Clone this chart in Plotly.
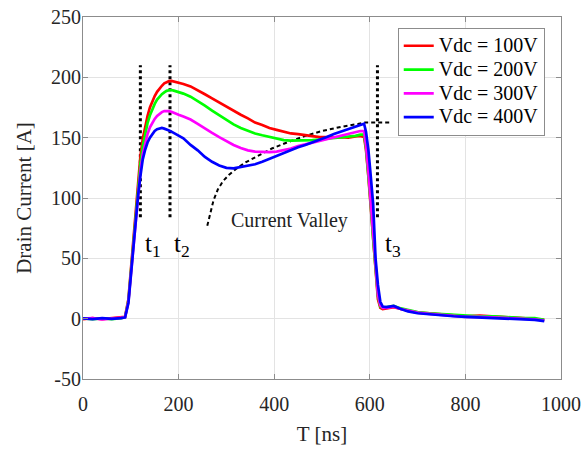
import plotly.graph_objects as go

# Sample times [ns] shared by all four drain-current waveforms
t_ns = [0, 20, 40, 60, 80, 88, 95, 100, 105, 110, 115, 120, 125, 130, 135, 140,
        145, 150, 155, 160, 165, 170, 175, 180, 185, 190, 200, 210, 225, 240, 255,
        270, 285, 300, 315, 330, 345, 360, 375, 390, 405, 420, 435, 450, 465, 480,
        495, 510, 525, 540, 555, 570, 580, 588, 592, 597, 602, 607, 612, 617, 622,
        627, 635, 650, 665, 680, 700, 725, 750, 775, 800, 830, 860, 890, 920, 945, 965]

# Drain current [A] for each DC-link voltage
i_100v = [-0.5, 0.4, -0.3, 0.5, 0.8, 1.5, 16, 39, 62, 87, 112, 134, 149, 160, 168, 175,
          180, 184.5, 188, 191, 193, 195, 196, 196.8, 197, 196.6, 195.5, 194.5, 192.5, 189.5, 186,
          182.5, 179, 175.5, 172, 169, 166, 162.5, 160.5, 158, 156.5, 155, 153.5, 153, 152, 151,
          150.5, 150.5, 150, 150.5, 150, 151, 151.5, 150.5, 140, 118, 92, 62, 35, 16, 9,
          8, 8.5, 9.5, 8, 6.5, 5, 4.5, 3.5, 3, 2, 2.5, 1.5, 1, 0.5, 0, -1]
i_200v = [0.3, -0.4, 0.2, -0.3, 0.5, 1.2, 15, 37, 61, 85, 108, 128, 143, 154, 162, 168.5,
          174, 178, 181.5, 184, 186, 187.5, 188.8, 189.3, 189.5, 189, 188, 186.5, 184, 180.5, 176.5,
          172.5, 168.5, 164.5, 161, 158, 155.5, 153.5, 152, 150.5, 149, 148, 147.5, 147.5, 147.5, 148,
          148.5, 149, 149.5, 150, 151, 151.5, 152.5, 152.5, 142, 120, 95, 66, 39, 19, 10,
          9, 9.5, 10.5, 8.5, 7, 5.5, 4.5, 4, 3, 2.5, 2, 2, 1, 0.5, 0.5, -1]
i_300v = [0, 0.5, -0.5, 0.3, 0.6, 1.2, 14, 36, 60, 83, 104, 122, 136, 146, 153, 158.5,
          162.5, 165.5, 168, 170, 171.2, 172, 172.3, 172, 171.5, 170.5, 169, 167.5, 165, 161.5, 157.5,
          154, 150.5, 147, 144, 141.5, 139.5, 138.5, 138, 138, 138.5, 139.5, 141, 143, 144.5, 146,
          147.5, 149, 150.5, 152, 153, 154.5, 155.5, 155.5, 144, 122, 97, 68, 40, 20, 11,
          9, 9, 10, 8, 6.5, 5, 4, 3, 2.5, 1.5, 1.5, 1, 0.5, 0, -0.5, -1.5]
i_400v = [0.2, -0.3, 0.5, -0.2, 0.4, 1, 13, 35, 58, 81, 101, 118, 132, 140, 146, 150,
          153, 155.5, 157, 157.5, 158, 157.5, 157, 156, 155, 154, 152, 149.5, 144, 139.5, 134,
          130, 127, 125, 124.5, 125.5, 126.5, 128, 130, 132.5, 135, 137.5, 139.5, 142, 144, 146,
          148, 150.5, 153, 155, 157, 159, 160.5, 161.5, 155, 140, 118, 95, 50, 28, 14,
          10, 9.5, 10.5, 8, 6, 4.5, 3.5, 3, 2, 1.5, 1, 0.5, 0, -0.5, -1, -2]

series_names = ["Vdc = 100V", "Vdc = 200V", "Vdc = 300V", "Vdc = 400V"]
series_values = [i_100v, i_200v, i_300v, i_400v]
series_colors = ["#ff0000", "#00ff00", "#ff00ff", "#0000ff"]

# Axis ticks
x_ticks = [0, 200, 400, 600, 800, 1000]
y_ticks = [-50, 0, 50, 100, 150, 200, 250]
y_tick_text = ["-50", "0", "50", "100", "150", "200", "250"]

# Switching instants t1, t2, t3 [ns] and extent of their marker lines [A]
marker_times = [120, 182, 616]
marker_span = [84, 210]
marker_labels = ["t<sub>1</sub>", "t<sub>2</sub>", "t<sub>3</sub>"]
marker_label_x = [125, 186, 627]
marker_label_y = 61

# Envelope of the current valley
valley_t = [260, 266, 273, 282, 293, 305, 320, 340, 365, 395, 430, 465, 500, 540, 575, 590, 645]
valley_i = [77, 88, 98, 107, 114, 119, 124, 129.5, 135, 141, 146.5, 151.5, 155.5, 159, 161.3, 162.5, 162.5]

font_family = "Liberation Serif"
text_color = "#262626"

fig = go.Figure()

for tx in marker_times:
    fig.add_trace(go.Scatter(x=[tx, tx], y=marker_span, mode="lines",
                             line=dict(color="black", width=3, dash="dot"),
                             showlegend=False, hoverinfo="skip"))

fig.add_trace(go.Scatter(x=valley_t, y=valley_i, mode="lines",
                         line=dict(color="black", width=2, dash="4px,3px"),
                         showlegend=False, hoverinfo="skip"))

for name, vals, col in zip(series_names, series_values, series_colors):
    fig.add_trace(go.Scatter(x=t_ns, y=vals, mode="lines",
                             name='<span style="font-size:20px">' + name + "</span>",
                             line=dict(color=col, width=2.7)))

for lx, lab in zip(marker_label_x, marker_labels):
    fig.add_annotation(x=lx, y=marker_label_y, text=lab, showarrow=False,
                       xanchor="left", yanchor="middle",
                       font=dict(family=font_family, size=25, color="black"))

fig.add_annotation(x=433, y=81, text="Current Valley", showarrow=False,
                   xanchor="center", yanchor="middle",
                   font=dict(family=font_family, size=20, color="#222222"))

axis_common = dict(showgrid=True, gridcolor="#e3e3e3", gridwidth=1,
                   showline=True, linecolor="#8c8c8c", linewidth=1, mirror="ticks",
                   ticks="inside", ticklen=5, tickcolor="#8c8c8c", zeroline=False,
                   automargin=False,
                   tickfont=dict(family=font_family, size=20, color=text_color))

fig.update_xaxes(range=[0, 1000], tickvals=x_ticks, ticklabelstandoff=7, **axis_common,
                 title=dict(text="T [ns]", standoff=12,
                            font=dict(family=font_family, size=21, color=text_color)))
fig.update_yaxes(range=[-50, 250], tickvals=y_ticks, ticktext=y_tick_text,
                 ticklabelstandoff=-3, **axis_common,
                 title=dict(text="Drain Current [A]", standoff=13,
                            font=dict(family=font_family, size=21, color=text_color)))

fig.update_layout(
    width=587, height=449,
    margin=dict(l=83, r=26, t=17, b=70),
    paper_bgcolor="white", plot_bgcolor="white",
    showlegend=True,
    legend=dict(x=0.966, y=0.97, xanchor="right", yanchor="top",
                bgcolor="white", bordercolor="#8c8c8c", borderwidth=1,
                font=dict(family=font_family, size=16, color="black"),
                tracegroupgap=0, itemwidth=30),
)

fig.write_html("out.html")
